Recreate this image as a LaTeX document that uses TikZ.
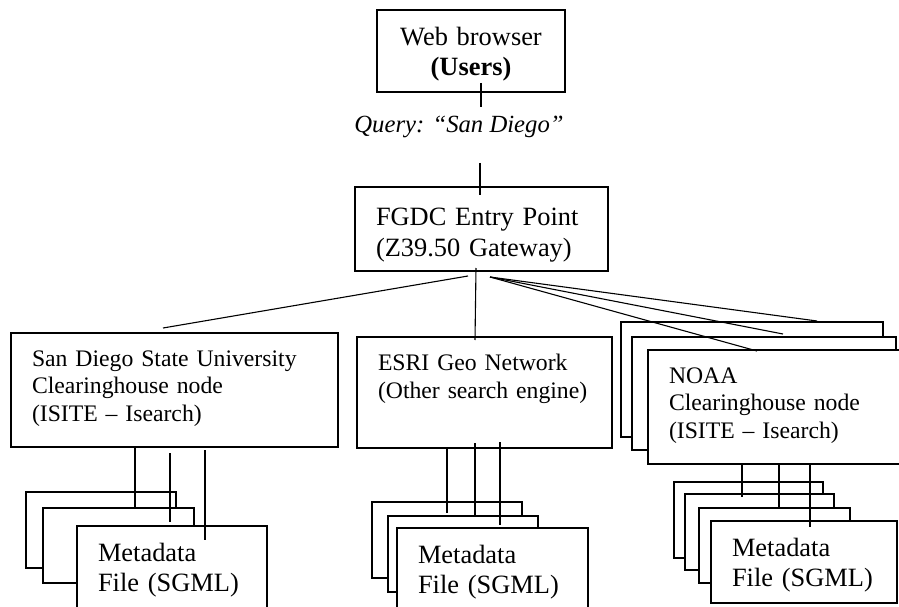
\documentclass[tikz,border=0pt]{standalone}
\usepackage{fontspec}
\setmainfont{Liberation Serif}
\usepackage{tikz}
\usetikzlibrary{positioning}

\newcommand{\bigtext}{\fontsize{26.4}{30.5}\selectfont}
\newcommand{\smalltext}{\fontsize{23.7}{27.5}\selectfont}

\begin{document}
\begin{tikzpicture}[x=1pt, y=-1pt, line width=1.1pt]

        % Define block styles
        \tikzstyle{sheet} = [rectangle, draw, fill=white, anchor=north west, inner sep=0pt, outer sep=0pt]
        \tikzstyle{browser} = [sheet, align=center, text width=146pt, inner xsep=21pt, minimum height=82pt, text depth=30pt, font=\bigtext]
        \tikzstyle{gateway} = [sheet, align=left, text width=211pt, inner xsep=21pt, minimum height=84pt, text depth=24pt, font=\bigtext]
        \tikzstyle{site} = [sheet, align=left, inner xsep=21pt, font=\smalltext]
        \tikzstyle{metafile} = [sheet, align=left, inner xsep=21pt, minimum height=82pt, text depth=30pt, font=\bigtext]
        \tikzstyle{query} = [anchor=base, inner sep=0pt, font=\fontsize{24.7}{29}\selectfont\itshape]
        \tikzstyle{link} = [draw, line width=1.1pt]

        \useasboundingbox (0,0) rectangle (899,607);

        % Components
        \node (web) [browser] at (377,10) {Web browser\\\textbf{(Users)}};
        \node (fgdc) [gateway] at (355,187) {FGDC Entry Point\\(Z39.50 Gateway)};

        \node (sdsu) [site, text width=285pt, minimum height=114pt, text depth=63pt] at (11,333) {San Diego State University\\Clearinghouse node\\(ISITE – Isearch)};
        \node (esri) [site, text width=213pt, minimum height=111pt, text depth=60pt] at (357,337) {ESRI Geo Network\\(Other search engine)};
        \node (noaaA) [sheet, minimum width=262pt, minimum height=115pt] at (621,322) {};
        \node (noaaB) [sheet, minimum width=264pt, minimum height=113pt] at (632,337) {};
        \node (noaa) [site, text width=218pt, minimum height=114pt, text depth=63pt] at (648,350) {NOAA\\Clearinghouse node\\(ISITE – Isearch)};

        % Metadata files
        \node (sdsuFileA) [sheet, minimum width=150pt, minimum height=76pt] at (26,492) {};
        \node (sdsuFileB) [sheet, minimum width=151pt, minimum height=75pt] at (43,508) {};
        \node (sdsuFile) [metafile, text width=148pt] at (77,526) {Metadata\\File (SGML)};

        \node (esriFileA) [sheet, minimum width=150pt, minimum height=76pt] at (372,502) {};
        \node (esriFileB) [sheet, minimum width=150pt, minimum height=76pt] at (388,516) {};
        \node (esriFile) [metafile, text width=149pt] at (397,528) {Metadata\\File (SGML)};

        \node (noaaFileA) [sheet, minimum width=149pt, minimum height=76pt] at (674,482) {};
        \node (noaaFileB) [sheet, minimum width=149pt, minimum height=76pt] at (685,494) {};
        \node (noaaFileC) [sheet, minimum width=151pt, minimum height=75pt] at (699,508) {};
        \node (noaaFile) [metafile, text width=144pt] at (711,521) {Metadata\\File (SGML)};

        % Labels
        \node (query) [query] at (459,132) {Query: “San Diego”};

        % Connectors
        \draw [link] ([xshift=10pt,yshift=9pt]web.south) -- ([xshift=22pt,yshift=8pt]query.north);
        \draw [link] ([xshift=21pt,yshift=-25pt]query.south) -- ([xshift=-1.5pt,yshift=-8pt]fgdc.north);

        \draw [link] ([xshift=-13.5pt,yshift=-5pt]fgdc.south) -- ([xshift=-11.5pt,yshift=5pt]sdsu.north);
        \draw [link] ([xshift=-5.5pt,yshift=3pt]fgdc.south) -- ([xshift=-9.5pt,yshift=-3pt]esri.north);
        \draw [link] ([xshift=8.5pt,yshift=-6pt]fgdc.south) -- ([xshift=65pt,yshift=1pt]noaaA.north);
        \draw [link] ([xshift=8.5pt,yshift=-6pt]fgdc.south) -- ([xshift=19pt,yshift=3pt]noaaB.north);
        \draw [link] ([xshift=8.5pt,yshift=-6pt]fgdc.south) -- ([xshift=-21pt,yshift=-1pt]noaa.north);

        \draw [link] ([xshift=-39.5pt]sdsu.south) -- ([xshift=16.5pt]sdsuFileB.north);
        \draw [link] ([xshift=-4.5pt,yshift=-6pt]sdsu.south) -- ([xshift=-2pt,yshift=4pt]sdsuFile.north);
        \draw [link] ([xshift=30.5pt,yshift=-3pt]sdsu.south) -- ([xshift=33pt,yshift=-14pt]sdsuFile.north);

        \draw [link] ([xshift=-37.5pt,yshift=1pt]esri.south) -- ([yshift=-11pt]esriFileA.north);
        \draw [link] ([xshift=-9.5pt,yshift=5pt]esri.south) -- ([xshift=12pt]esriFileB.north);
        \draw [link] ([xshift=15.5pt,yshift=6pt]esri.south) -- ([xshift=7.5pt,yshift=3pt]esriFile.north);

        \draw [link] ([xshift=-36pt]noaa.south) -- ([xshift=-17.5pt,yshift=-3pt]noaaFileB.north);
        \draw [link] ([xshift=1pt]noaa.south) -- ([xshift=4.5pt,yshift=1pt]noaaFileC.north);
        \draw [link] ([xshift=32pt]noaa.south) -- ([xshift=6pt,yshift=-6pt]noaaFile.north);

\end{tikzpicture}
\end{document}
